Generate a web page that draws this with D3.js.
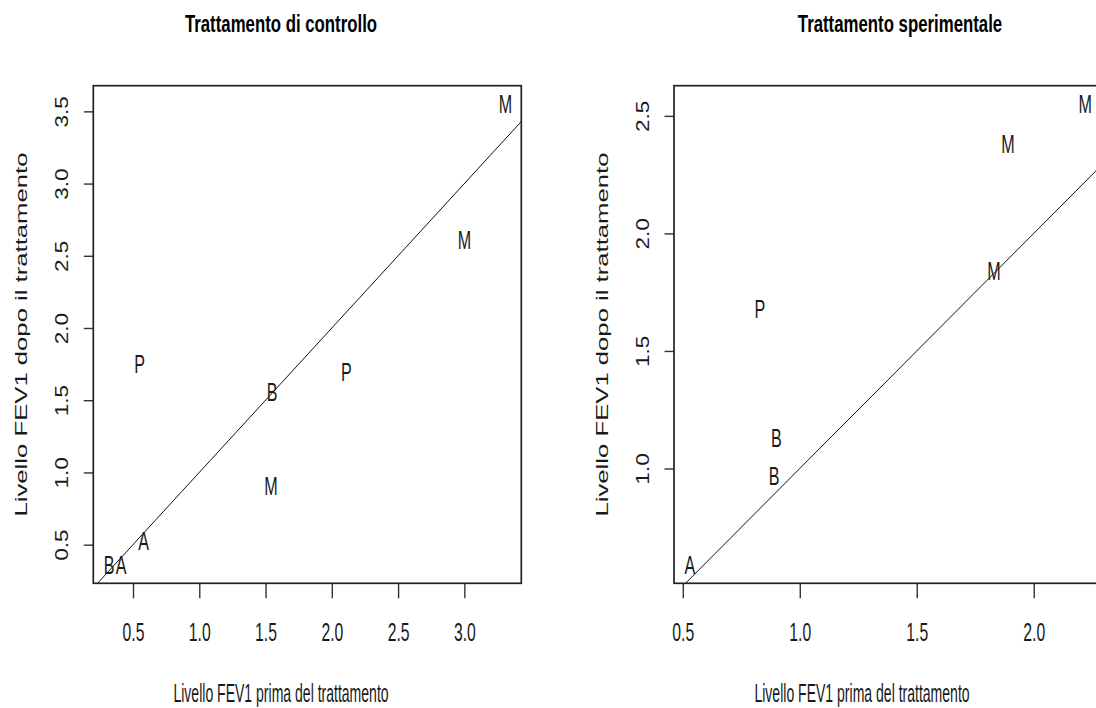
<!DOCTYPE html>
<html>
<head>
<meta charset="utf-8">
<script src="https://cdn.jsdelivr.net/npm/d3@7"></script>
<style>
  body { margin: 0; background: #fff; }
  text { font-family: "Liberation Sans", Arial, sans-serif; }
</style>
</head>
<body>
<div id="chart"></div>
<script>
// Controllo: lettere e livelli FEV1 prima / dopo
const ctrlLabels = ["B", "A", "A", "P", "B", "M", "P", "M", "M"];
const ctrlBefore = [0.32, 0.41, 0.58, 0.55, 1.55, 1.54, 2.11, 3.00, 3.31];
const ctrlAfter  = [0.36, 0.36, 0.53, 1.75, 1.56, 0.91, 1.70, 2.61, 3.55];

// Sperimentale
const expLabels = ["A", "B", "B", "P", "M", "M", "M"];
const expBefore = [0.53, 0.89, 0.90, 0.83, 1.83, 1.89, 2.22];
const expAfter  = [0.59, 0.97, 1.13, 1.68, 1.84, 2.38, 2.55];

// tick values
const ctrlXTicks = [0.5, 1.0, 1.5, 2.0, 2.5, 3.0];
const ctrlYTicks = [0.5, 1.0, 1.5, 2.0, 2.5, 3.0, 3.5];
const expXTicks = [0.5, 1.0, 1.5, 2.0];
const expYTicks = [1.0, 1.5, 2.0, 2.5];

const titles = ["Trattamento di controllo", "Trattamento sperimentale"];
const xLabel = "Livello FEV1 prima del trattamento";
const yLabel = "Livello FEV1 dopo il trattamento";

const W = 1096, H = 708;
const plotTop = 85.7, plotBottom = 583.3;

const svg = d3.select("#chart")
    .append("svg")
    .attr("width", W)
    .attr("height", H);

svg.append("rect").attr("width", W).attr("height", H).attr("fill", "#fff");

// R style range: extent +/- 4%
function padded(values) {
    const [a, b] = d3.extent(values);
    const p = (b - a) * 0.04;
    return [a - p, b + p];
}

const panels = [
    { title: titles[0], labels: ctrlLabels, xs: ctrlBefore, ys: ctrlAfter,
      xTicks: ctrlXTicks, yTicks: ctrlYTicks,
      left: 93.3, right: 521.3, titleX: 281, xLabX: 281, yLabX: 27 },
    { title: titles[1], labels: expLabels, xs: expBefore, ys: expAfter,
      xTicks: expXTicks, yTicks: expYTicks,
      left: 674, right: 1101, titleX: 900, xLabX: 862, yLabX: 607.7 }
];

panels.forEach((p, i) => {
    const xScale = d3.scaleLinear().domain(padded(p.xs)).range([p.left, p.right]);
    const yScale = d3.scaleLinear().domain(padded(p.ys)).range([plotBottom, plotTop]);

    const g = svg.append("g").attr("class", "panel");

    // clip for the y = x line
    g.append("clipPath")
        .attr("id", "clip" + i)
        .append("rect")
        .attr("x", p.left)
        .attr("y", plotTop)
        .attr("width", p.right - p.left)
        .attr("height", plotBottom - plotTop);

    // x axis
    const xAxis = g.append("g")
        .attr("transform", `translate(0,${plotBottom})`)
        .call(d3.axisBottom(xScale).tickValues(p.xTicks)
            .tickFormat(d3.format(".1f")).tickSize(15).tickSizeOuter(0));
    xAxis.select(".domain").remove();
    xAxis.selectAll("line").attr("stroke", "#333").attr("stroke-width", 1.4);
    xAxis.selectAll("text")
        .attr("y", null).attr("dy", null)
        .attr("fill", "#1a1a1a")
        .attr("font-size", 25)
        .attr("transform", "translate(0,58) scale(0.63,1)");

    // y axis
    const yAxis = g.append("g")
        .attr("transform", `translate(${p.left},0)`)
        .call(d3.axisLeft(yScale).tickValues(p.yTicks)
            .tickFormat(d3.format(".1f")).tickSize(9.5).tickSizeOuter(0));
    yAxis.select(".domain").remove();
    yAxis.selectAll("line").attr("stroke", "#333").attr("stroke-width", 1.4);
    yAxis.selectAll("text")
        .attr("x", null).attr("dy", null)
        .attr("fill", "#1a1a1a")
        .attr("text-anchor", "middle")
        .attr("font-size", 22.5)
        .attr("transform", "translate(-25,0) scale(0.85,1) rotate(-90)");

    // abline(0, 1)
    const dom = xScale.domain();
    const line = d3.line().x(d => xScale(d)).y(d => yScale(d));
    g.append("path")
        .datum([Math.min(dom[0], yScale.domain()[0]), Math.max(dom[1], yScale.domain()[1])])
        .attr("d", line)
        .attr("clip-path", `url(#clip${i})`)
        .attr("fill", "none")
        .attr("stroke", "#111")
        .attr("stroke-width", 1);

    // letters as points
    g.selectAll(".pt")
        .data(p.labels.map((lab, k) => ({ lab, x: p.xs[k], y: p.ys[k] })))
        .enter()
        .append("text")
        .attr("class", "pt")
        .attr("transform", d => `translate(${xScale(d.x)},${yScale(d.y)}) scale(0.62,1)`)
        .attr("y", 9.3)
        .attr("text-anchor", "middle")
        .attr("font-size", 26)
        .attr("fill", "#1a1a1a")
        .text(d => d.lab);

    // box
    g.append("rect")
        .attr("x", p.left)
        .attr("y", plotTop)
        .attr("width", p.right - p.left)
        .attr("height", plotBottom - plotTop)
        .attr("fill", "none")
        .attr("stroke", "#222")
        .attr("stroke-width", 1.7);

    // title
    g.append("text")
        .attr("transform", `translate(${p.titleX},32) scale(0.70,1)`)
        .attr("text-anchor", "middle")
        .attr("font-weight", "bold")
        .attr("font-size", 24)
        .attr("fill", "#000")
        .text(p.title);

    // axis labels
    g.append("text")
        .attr("transform", `translate(${p.xLabX},702) scale(0.54,1)`)
        .attr("text-anchor", "middle")
        .attr("font-size", 26)
        .attr("fill", "#1a1a1a")
        .text(xLabel);

    g.append("text")
        .attr("transform", `translate(${p.yLabX},${(plotTop + plotBottom) / 2}) scale(0.65,1) rotate(-90)`)
        .attr("text-anchor", "middle")
        .attr("font-size", 25.7)
        .attr("fill", "#1a1a1a")
        .text(yLabel);
});
</script>
</body>
</html>
